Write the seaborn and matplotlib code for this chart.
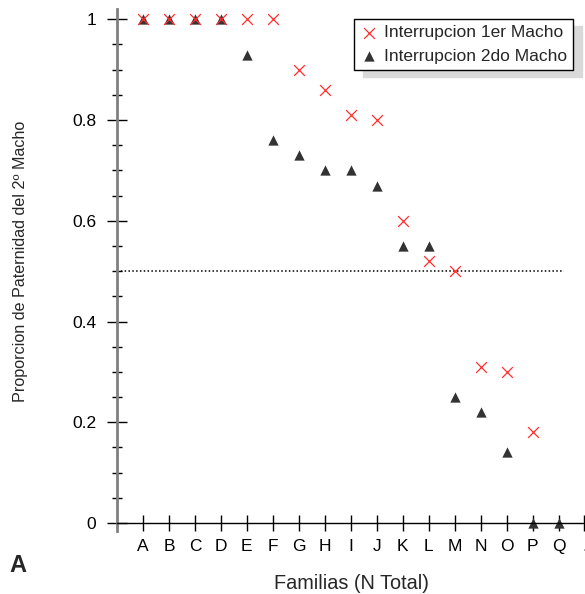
import numpy as np
import pandas as pd
import matplotlib
matplotlib.use("Agg")
import matplotlib.pyplot as plt
import seaborn as sns
from matplotlib.ticker import MultipleLocator

familias = ["A", "B", "C", "D", "E", "F", "G", "H", "I", "J", "K", "L", "M", "N", "O", "P", "Q"]
interrupcion_1er = [1.0, 1.0, 1.0, 1.0, 1.0, 1.0, 0.90, 0.86, 0.81, 0.80, 0.60, 0.52, 0.50, 0.31, 0.30, 0.18, np.nan]
interrupcion_2do = [1.0, 1.0, 1.0, 1.0, 0.93, 0.76, 0.73, 0.70, 0.70, 0.67, 0.55, 0.55, 0.25, 0.22, 0.14, 0.0, 0.0]
tick_labels = familias + ["."]
umbral = 0.5

sns.set_style("white")
plt.rcParams['font.family'] = ['Liberation Sans', 'DejaVu Sans']

pos = np.arange(1, len(familias) + 1)
df1 = pd.DataFrame({"x": pos, "y": interrupcion_1er}).dropna()
df2 = pd.DataFrame({"x": pos, "y": interrupcion_2do})

fig = plt.figure(figsize=(5.85, 5.94), dpi=100)
ax = fig.add_axes([0.2, 0.1195, 0.8, 0.865])

sns.scatterplot(data=df1, x="x", y="y", ax=ax, marker="x", color="#ff3030",
                s=60, linewidth=0.9, label="Interrupcion 1er Macho", zorder=3, clip_on=False)
sns.scatterplot(data=df2, x="x", y="y", ax=ax, marker="^", color="#333333",
                s=55, linewidth=0, label="Interrupcion 2do Macho", zorder=2, clip_on=False)

ax.plot([0, 17.2], [umbral, umbral], linestyle=(0, (1, 1.5)), color="black", linewidth=1.1, zorder=1)

ax.set_xlim(0, 18.02)
ax.set_ylim(0, 1.02)
ax.set_xticks(np.arange(1, len(tick_labels) + 1))
ax.set_xticklabels(tick_labels)
ax.set_yticks([0, 0.2, 0.4, 0.6, 0.8, 1.0])
ax.set_yticklabels(["0", "0.2", "0.4", "0.6", "0.8", "1"])
ax.yaxis.set_minor_locator(MultipleLocator(0.05))

ax.tick_params(axis="x", which="major", direction="inout", length=11.5, width=1, colors="black",
               labelsize=12.5, pad=6, bottom=True)
ax.tick_params(axis="y", which="major", direction="inout", length=13.7, width=1, colors="black",
               labelsize=12.5, pad=8, left=True)
ax.tick_params(axis="y", which="minor", direction="inout", length=7.2, width=1, color="black", left=True)

for s in ["top", "right"]:
    ax.spines[s].set_visible(False)
ax.spines["left"].set_color("#808080")
ax.spines["left"].set_linewidth(2)
ax.spines["bottom"].set_color("black")
ax.spines["bottom"].set_linewidth(1)
ax.spines["left"].set_bounds(-0.015, 1.02)

ax.set_xlabel("Familias (N Total)", fontsize=14.3, labelpad=14)
ax.set_ylabel("Proporcion de Paternidad del 2º Macho", fontsize=11.6)
ax.yaxis.set_label_coords(21 / 585, 1 - 261 / 594, transform=fig.transFigure)
ax.yaxis.label.set_horizontalalignment("center")
ax.yaxis.label.set_verticalalignment("center")

leg = ax.legend(loc="upper right", bbox_to_anchor=(0.974, 0.981), frameon=True, fancybox=False,
                shadow={"color": "#d9d9d9", "alpha": 1, "ox": 6.5, "oy": -5},
                fontsize=12.5, handletextpad=0.35, borderpad=0.35, labelspacing=0.5,
                handlelength=1.0, borderaxespad=0)
leg.get_frame().set_edgecolor("black")
leg.get_frame().set_linewidth(1)

fig.text(9 / 585, 1 - 572 / 594, "A", fontsize=17, fontweight="bold")

fig.savefig("out.png", dpi=100)
